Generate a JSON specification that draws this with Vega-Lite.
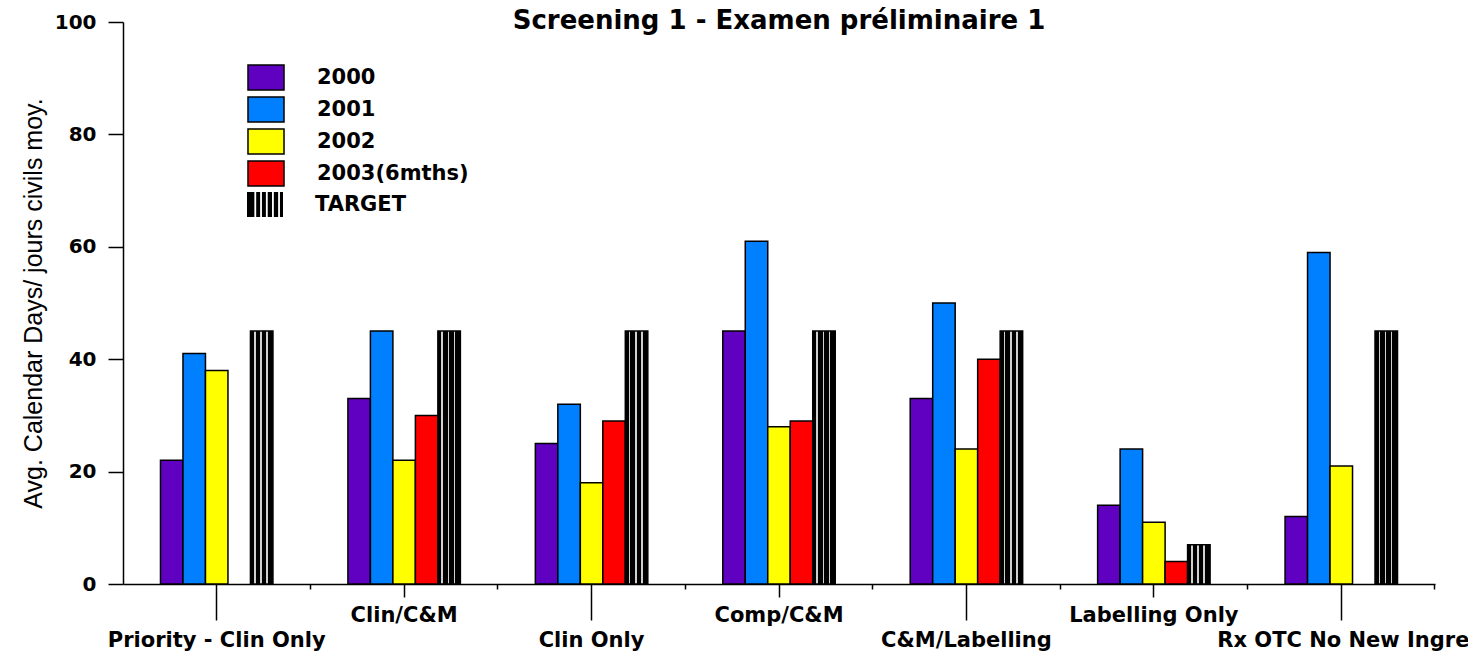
{
  "$schema": "https://vega.github.io/schema/vega-lite/v6.json",
  "autosize": {"type": "none"},
  "padding": {"left": 123, "top": 22, "right": 33, "bottom": 68},
  "width": 1312,
  "height": 562,
  "config": {"view": {"stroke": null}},
  "title": {
    "text": "Screening 1 - Examen préliminaire 1",
    "font": "DejaVu Sans", "fontWeight": "bold", "fontSize": 26, "color": "black",
    "anchor": "middle", "baseline": "alphabetic", "offset": 0, "dy": 43
  },
  "data": {"values": [
    {"cat": "Priority - Clin Only", "year": "2000", "value": 22},
    {"cat": "Priority - Clin Only", "year": "2001", "value": 41},
    {"cat": "Priority - Clin Only", "year": "2002", "value": 38},
    {"cat": "Priority - Clin Only", "year": "TARGET", "value": 45},
    {"cat": "Clin/C&M", "year": "2000", "value": 33},
    {"cat": "Clin/C&M", "year": "2001", "value": 45},
    {"cat": "Clin/C&M", "year": "2002", "value": 22},
    {"cat": "Clin/C&M", "year": "2003(6mths)", "value": 30},
    {"cat": "Clin/C&M", "year": "TARGET", "value": 45},
    {"cat": "Clin Only", "year": "2000", "value": 25},
    {"cat": "Clin Only", "year": "2001", "value": 32},
    {"cat": "Clin Only", "year": "2002", "value": 18},
    {"cat": "Clin Only", "year": "2003(6mths)", "value": 29},
    {"cat": "Clin Only", "year": "TARGET", "value": 45},
    {"cat": "Comp/C&M", "year": "2000", "value": 45},
    {"cat": "Comp/C&M", "year": "2001", "value": 61},
    {"cat": "Comp/C&M", "year": "2002", "value": 28},
    {"cat": "Comp/C&M", "year": "2003(6mths)", "value": 29},
    {"cat": "Comp/C&M", "year": "TARGET", "value": 45},
    {"cat": "C&M/Labelling", "year": "2000", "value": 33},
    {"cat": "C&M/Labelling", "year": "2001", "value": 50},
    {"cat": "C&M/Labelling", "year": "2002", "value": 24},
    {"cat": "C&M/Labelling", "year": "2003(6mths)", "value": 40},
    {"cat": "C&M/Labelling", "year": "TARGET", "value": 45},
    {"cat": "Labelling Only", "year": "2000", "value": 14},
    {"cat": "Labelling Only", "year": "2001", "value": 24},
    {"cat": "Labelling Only", "year": "2002", "value": 11},
    {"cat": "Labelling Only", "year": "2003(6mths)", "value": 4},
    {"cat": "Labelling Only", "year": "TARGET", "value": 7},
    {"cat": "Rx OTC No New Ingredient", "year": "2000", "value": 12},
    {"cat": "Rx OTC No New Ingredient", "year": "2001", "value": 59},
    {"cat": "Rx OTC No New Ingredient", "year": "2002", "value": 21},
    {"cat": "Rx OTC No New Ingredient", "year": "TARGET", "value": 45}
  ]},
  "layer": [
    {
      "mark": {"type": "bar", "stroke": "black", "strokeWidth": 1.5, "opacity": 1},
      "encoding": {
        "x": {
          "field": "cat", "type": "nominal",
          "sort": ["Priority - Clin Only", "Clin/C&M", "Clin Only", "Comp/C&M", "C&M/Labelling", "Labelling Only", "Rx OTC No New Ingredient"],
          "scale": {"paddingInner": 0.4, "paddingOuter": 0.2},
          "axis": {
            "orient": "bottom",
            "title": null,
            "labelAngle": 0,
            "domainColor": "black", "domainWidth": 1.5,
            "tickColor": "black", "tickWidth": 1.5,
            "tickSize": {"condition": {"test": "indexof(['Clin/C&M','Comp/C&M','Labelling Only'], datum.value) >= 0", "value": 13}, "value": 36},
            "labelPadding": {"condition": {"test": "indexof(['Clin/C&M','Comp/C&M','Labelling Only'], datum.value) >= 0", "value": 7}, "value": 9},
            "labelAlign": {"condition": {"test": "datum.value === 'Rx OTC No New Ingredient'", "value": "left"}, "value": "center"},
            "labelOffset": {"condition": {"test": "datum.value === 'Rx OTC No New Ingredient'", "value": -124}, "value": 0},
            "labelFont": "DejaVu Sans", "labelFontWeight": "bold", "labelFontSize": 21, "labelColor": "black",
            "labelOverlap": false, "labelLimit": 0
          }
        },
        "xOffset": {
          "field": "year", "type": "nominal",
          "scale": {"domain": ["2000", "2001", "2002", "2003(6mths)", "TARGET"], "paddingInner": 0, "paddingOuter": 0}
        },
        "y": {
          "field": "value", "type": "quantitative",
          "scale": {"domain": [0, 100], "nice": false},
          "axis": {
            "values": [0, 20, 40, 60, 80, 100],
            "grid": false,
            "title": "Avg. Calendar Days/ jours civils moy.",
            "titleFont": "Liberation Sans", "titleFontSize": 25, "titleFontWeight": "normal", "titleColor": "black", "titlePadding": 8,
            "domainColor": "black", "domainWidth": 1.5,
            "tickColor": "black", "tickWidth": 1.5, "tickSize": 15,
            "labelFont": "DejaVu Sans", "labelFontWeight": "bold", "labelFontSize": 20, "labelColor": "black", "labelPadding": 12
          }
        },
        "fill": {
          "condition": {
            "test": "datum.year === 'TARGET'",
            "value": {"gradient": "linear", "x1": 0, "y1": 0, "x2": 1, "y2": 0, "stops": [
              {"offset": 0, "color": "#000000"}, {"offset": 0.155, "color": "#000000"},
              {"offset": 0.155, "color": "#d0d0d0"}, {"offset": 0.225, "color": "#d0d0d0"},
              {"offset": 0.225, "color": "#000000"}, {"offset": 0.435, "color": "#000000"},
              {"offset": 0.435, "color": "#d0d0d0"}, {"offset": 0.505, "color": "#d0d0d0"},
              {"offset": 0.505, "color": "#000000"}, {"offset": 0.705, "color": "#000000"},
              {"offset": 0.705, "color": "#d0d0d0"}, {"offset": 0.775, "color": "#d0d0d0"},
              {"offset": 0.775, "color": "#000000"}, {"offset": 1, "color": "#000000"}
            ]}
          },
          "field": "year", "type": "nominal",
          "scale": {"domain": ["2000", "2001", "2002", "2003(6mths)", "TARGET"], "range": ["#6000C0", "#0080FF", "#FFFF00", "#FF0000", "#000000"]},
          "legend": {
            "title": null, "orient": "none", "legendX": 128, "legendY": 40.5, "padding": 0,
            "values": ["2000", "2001", "2002", "2003(6mths)"],
            "symbolType": "M-1.286,-0.893H1.286V0.893H-1.286Z", "symbolSize": 784,
            "symbolStrokeColor": "black", "symbolStrokeWidth": 1.5,
            "labelFont": "DejaVu Sans", "labelFontWeight": "bold", "labelFontSize": 21, "labelColor": "black",
            "labelOffset": 36, "rowPadding": 0
          }
        }
      }
    },
    {
      "mark": {"type": "bar", "opacity": 0},
      "encoding": {
        "x": {
          "field": "cat", "type": "nominal",
          "sort": ["Priority - Clin Only", "Clin/C&M", "Clin Only", "Comp/C&M", "C&M/Labelling", "Labelling Only", "Rx OTC No New Ingredient"],
          "axis": {
            "orient": "bottom", "title": null, "labels": false, "domain": false,
            "bandPosition": 1.3333, "tickSize": 5, "tickColor": "black", "tickWidth": 1.5
          }
        }
      }
    },
    {
      "transform": [{"filter": "datum.year === 'TARGET'"}],
      "mark": {"type": "point", "filled": true, "color": "black", "opacity": 0, "size": 784},
      "encoding": {
        "shape": {
          "field": "year", "type": "nominal",
          "scale": {"domain": ["TARGET"], "range": ["M-1.286,-0.893H-0.759V0.893H-1.286Z M-0.629,-0.893H-0.348V0.893H-0.629Z M-0.218,-0.893H0.064V0.893H-0.218Z M0.194,-0.893H0.501V0.893H0.194Z M0.631,-0.893H0.938V0.893H0.631Z M1.068,-0.893H1.286V0.893H1.068Z"]},
          "legend": {
            "title": null, "orient": "none", "legendX": 128, "legendY": 168.5, "padding": 0,
            "symbolSize": 784, "symbolOpacity": 1, "symbolFillColor": "black", "symbolStrokeWidth": 0, "symbolStrokeColor": "black",
            "labelFont": "DejaVu Sans", "labelFontWeight": "bold", "labelFontSize": 21, "labelColor": "black",
            "labelOffset": 36, "rowPadding": 0
          }
        }
      }
    }
  ],
  "resolve": {"axis": {"x": "independent"}}
}
